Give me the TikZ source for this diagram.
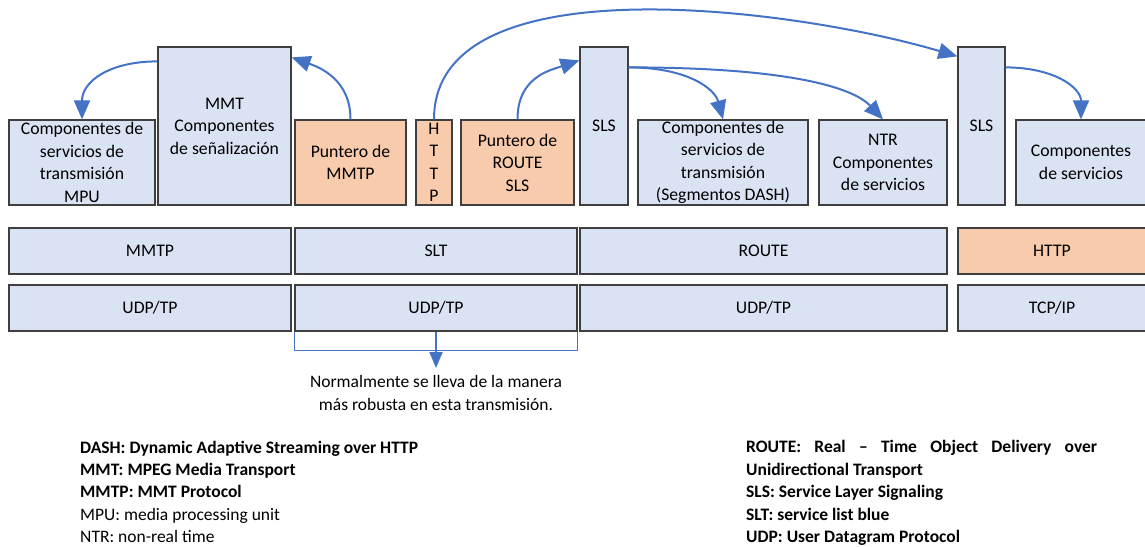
\documentclass[tikz,border=0pt]{standalone}
\usepackage{fontspec}
\setmainfont{Carlito}
\usetikzlibrary{arrows.meta}
\definecolor{paleblue}{HTML}{DAE3F3}
\definecolor{paleorange}{HTML}{F8CBAD}
\definecolor{edgegray}{HTML}{3F3F3F}
\definecolor{arrowblue}{HTML}{4472C4}
\tikzset{
  box/.style={draw=edgegray, line width=1.2pt, fill=paleblue, inner sep=0pt,
    align=center, font=\fontsize{17.7}{22.5}\selectfont},
  obox/.style={box, fill=paleorange},
  shortbox/.style={minimum height=85pt},
  tallbox/.style={minimum height=158pt},
  layer/.style={minimum height=46pt},
  flow/.style={draw=arrowblue, line width=2pt, -{Triangle[length=19pt,width=16pt]}},
  brace/.style={draw=arrowblue, line width=1pt},
  legend/.style={anchor=north west, align=left, inner sep=0pt,
    font=\fontsize{17.5}{22.4}\selectfont}
}
\begin{document}
\begin{tikzpicture}[x=1pt, y=-1pt]
\useasboundingbox (0,0) rectangle (1145,546);

% upper row: service components and signalling
\node[box, shortbox, minimum width=146pt] (mpu) at (82,162.5)
  {Componentes de\\servicios de\\transmisión\\MPU};
\node[box, tallbox, minimum width=133pt] (mmt) at (224.5,126)
  {MMT\\Componentes\\de señalización};
\node[obox, shortbox, minimum width=111pt] (pmmtp) at (350.5,162.5)
  {Puntero de\\MMTP};
\node[obox, shortbox, minimum width=36pt] (http) at (434,162.5)
  {H\\T\\T\\P};
\node[obox, shortbox, minimum width=113pt] (proute) at (517.5,162.5)
  {Puntero de\\ROUTE\\SLS};
\node[box, tallbox, minimum width=48pt] (sls1) at (604,126) {SLS};
\node[box, shortbox, minimum width=170pt] (dash) at (723,162.5)
  {Componentes de\\servicios de\\transmisión\\(Segmentos DASH)};
\node[box, shortbox, minimum width=128pt] (ntr) at (883,162.5)
  {NTR\\Componentes\\de servicios};
\node[box, tallbox, minimum width=47pt] (sls2) at (981.5,126) {SLS};
\node[box, shortbox, minimum width=130pt] (csv) at (1081,162.5)
  {Componentes\\de servicios};

% protocol layers
\node[box, layer, minimum width=282pt] (mmtp) at (150,251) {MMTP};
\node[box, layer, minimum width=282pt] (slt) at (436,251) {SLT};
\node[box, layer, minimum width=367pt] (route) at (763.5,251) {ROUTE};
\node[obox, layer, minimum width=188pt] (httpl) at (1052,251) {HTTP};

\node[box, layer, minimum width=282pt] (udp1) at (150,308) {UDP/TP};
\node[box, layer, minimum width=282pt] (udp2) at (436,308) {UDP/TP};
\node[box, layer, minimum width=367pt] (udp3) at (763.5,308) {UDP/TP};
\node[box, layer, minimum width=188pt] (tcp) at (1052,308) {TCP/IP};

% signalling arrows
\draw[flow] ([yshift=-15pt]mmt.north west) .. controls +(-48,0) and +(0,-38) .. (mpu.north);
\draw[flow] (pmmtp.north) .. controls +(0,-40) and +(28,10) .. ([yshift=-11pt]mmt.north east);
\draw[flow] (http.north) .. controls +(0,-160) and +(-158,-47) .. ([yshift=-10pt]sls2.north west);
\draw[flow] (proute.north) .. controls +(0,-42) and +(-30,10) .. ([yshift=-14pt]sls1.north west);
\draw[flow] ([yshift=-21pt]sls1.north east) .. controls +(60,0) and +(-8,-30) .. (dash.north);
\draw[flow] ([yshift=-21pt]sls1.north east) .. controls +(160,0) and +(-30,-32) .. (ntr.north);
\draw[flow] ([yshift=-21pt]sls2.north east) .. controls +(48,0) and +(0,-32) .. (csv.north);

% bracket under the SLT column
\draw[brace] (udp2.south west) -- ++(0,19) -| (udp2.south east);
\node[align=center, inner sep=0pt, font=\fontsize{17.5}{23}\selectfont] (note) at (436,393)
  {Normalmente se lleva de la manera\\más robusta en esta transmisión.};
\coordinate (notetop) at (436,368);
\draw[brace, line width=1.8pt, -{Triangle[length=16pt,width=13pt]}] (udp2.south) -- (notetop);

% abbreviations
\node[legend] (legl) at (80,440.5)
  {\textbf{DASH: Dynamic Adaptive Streaming over HTTP}\\
   \textbf{MMT: MPEG Media Transport}\\
   \textbf{MMTP: MMT Protocol}\\
   MPU: media processing unit\\
   NTR: non-real time};
\node[legend] (legr) at (746,440.5)
  {\makebox[351pt][s]{\textbf{ROUTE: Real – Time Object Delivery over}}\\
   \textbf{Unidirectional Transport}\\
   \textbf{SLS: Service Layer Signaling}\\
   \textbf{SLT: service list blue}\\
   \textbf{UDP: User Datagram Protocol}};
\end{tikzpicture}
\end{document}
